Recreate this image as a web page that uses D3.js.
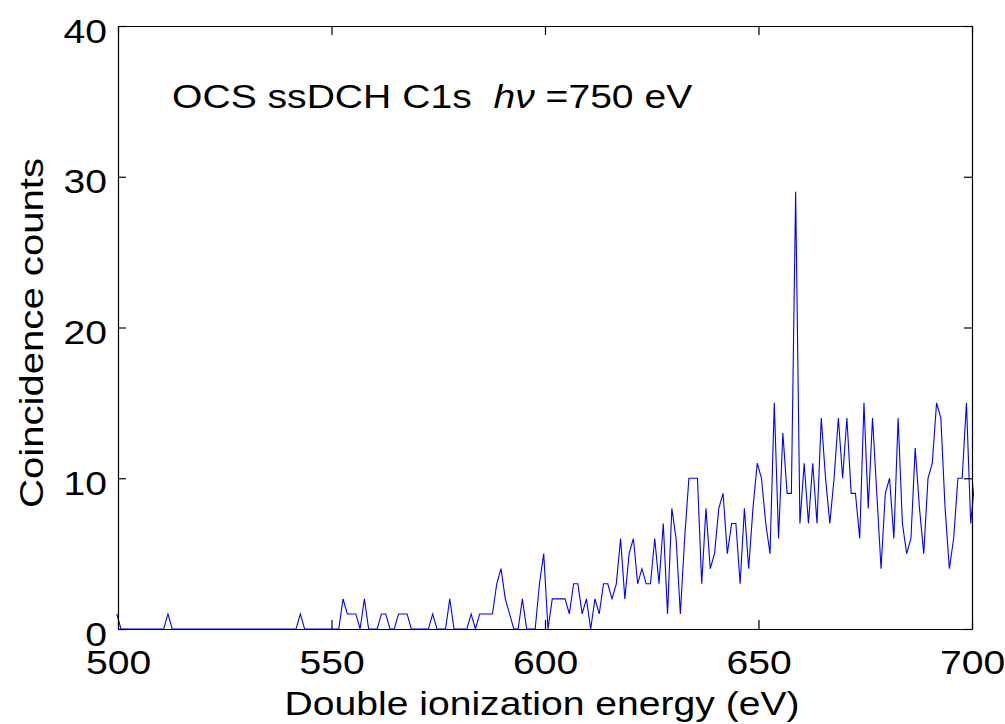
<!DOCTYPE html>
<html>
<head>
<meta charset="utf-8">
<script src="https://cdn.jsdelivr.net/npm/d3@7"></script>
<style>
  html, body { margin: 0; padding: 0; background: #fff; }
  svg { display: block; }
  text { font-family: "Liberation Sans", Arial, Helvetica, sans-serif; fill: #000; white-space: pre; }
</style>
</head>
<body>
<script>
// ---- data ----
const xTicks = [500, 550, 600, 650, 700];
const yTicks = [0, 10, 20, 30, 40];
const xDomain = [500, 700];
const yDomain = [0, 40];
const firstEnergy = 499.7;   // centre of the first bin (eV)
const binWidth = 1;          // bin width (eV)
const counts = [
  1, 0, 0, 0, 0, 0, 0, 0, 0, 0,      // 0-9
  0, 0, 1, 0, 0, 0, 0, 0, 0, 0,      // 10-19
  0, 0, 0, 0, 0, 0, 0, 0, 0, 0,      // 20-29
  0, 0, 0, 0, 0, 0, 0, 0, 0, 0,      // 30-39
  0, 0, 0, 1, 0, 0, 0, 0, 0, 0,      // 40-49
  0, 0, 0, 2, 1, 1, 1, 0, 2, 0,      // 50-59
  0, 0, 1, 1, 0, 0, 1, 1, 1, 0,      // 60-69
  0, 0, 0, 0, 1, 0, 0, 0, 2, 0,      // 70-79
  0, 0, 0, 1, 0, 1, 1, 1, 1, 3,      // 80-89
  4, 2, 1, 0, 0, 2, 0, 0, 0, 3,      // 90-99
  5, 0, 2, 2, 2, 2, 1, 3, 3, 1,      // 100-109
  2, 0, 2, 1, 3, 3, 2, 3, 6, 2,      // 110-119
  5, 6, 3, 4, 3, 3, 6, 3, 7, 1,      // 120-129
  8, 6, 1, 6, 10, 10, 10, 3, 8, 4,   // 130-139
  5, 8, 9, 5, 7, 7, 3, 8, 4, 8,      // 140-149
  11, 10, 7, 5, 15, 6, 13, 9, 9, 29, // 150-159
  7, 11, 7, 11, 7, 14, 10, 7, 10, 14,// 160-169
  10, 14, 9, 9, 6, 15, 8, 14, 9, 4,  // 170-179
  9, 10, 6, 14, 7, 5, 6, 12, 8, 5,   // 180-189
  10, 11, 15, 14, 8, 4, 6, 10, 10, 15,// 190-199
  7, 10                              // 200-201
];
const titleMain = "OCS ssDCH C1s  ";
const titleItalic = "hν";
const titleRest = " =750 eV";
const xLabel = "Double ionization energy (eV)";
const yLabel = "Coincidence counts";

// ---- layout ----
const W = 1005, H = 724;
const L = 118, R = 972, T = 26, B = 629;
const FS = 34, STRETCH = 1.15;

const energies = d3.range(counts.length).map(i => firstEnergy + i * binWidth);
const points = energies.map((e, i) => ({ e, c: counts[i] }));

const x = d3.scaleLinear().domain(xDomain).range([L, R]);
const y = d3.scaleLinear().domain(yDomain).range([B, T]);

const svg = d3.select("body").append("svg")
  .attr("width", W).attr("height", H)
  .attr("viewBox", `0 0 ${W} ${H}`);

svg.append("defs").append("clipPath").attr("id", "clip")
  .append("rect").attr("x", L - 2).attr("y", T - 2)
  .attr("width", R - L + 4).attr("height", B - T + 4);

// data line
const line = d3.line().x(d => x(d.e)).y(d => y(d.c));
svg.append("path")
  .datum(points)
  .attr("clip-path", "url(#clip)")
  .attr("fill", "none")
  .attr("stroke", "#0000ff")
  .attr("stroke-width", 1.1)
  .attr("stroke-linejoin", "miter")
  .attr("d", line);

// axes
function styleAxis(g) {
  g.selectAll("path.domain").attr("stroke", "#000").attr("stroke-width", 1.2);
  g.selectAll(".tick line").attr("stroke", "#000").attr("stroke-width", 1.2);
}
const gB = svg.append("g").attr("transform", `translate(0,${B})`)
  .call(d3.axisBottom(x).tickValues(xTicks).tickSizeInner(-9).tickSizeOuter(0).tickFormat(d3.format("d")));
const gT = svg.append("g").attr("transform", `translate(0,${T})`)
  .call(d3.axisTop(x).tickValues(xTicks).tickSizeInner(-9).tickSizeOuter(0).tickFormat(""));
const gL = svg.append("g").attr("transform", `translate(${L},0)`)
  .call(d3.axisLeft(y).tickValues(yTicks).tickSizeInner(-8).tickSizeOuter(0).tickFormat(d3.format("d")));
const gR = svg.append("g").attr("transform", `translate(${R},0)`)
  .call(d3.axisRight(y).tickValues(yTicks).tickSizeInner(-8).tickSizeOuter(0).tickFormat(""));
[gB, gT, gL, gR].forEach(g => { g.attr("font-family", null).attr("font-size", null); styleAxis(g); });

gB.selectAll(".tick text")
  .attr("x", 0).attr("y", 0).attr("dy", null)
  .attr("font-size", FS).attr("text-anchor", "middle")
  .attr("transform", `translate(0,45) scale(${STRETCH},1)`);
gL.selectAll(".tick text")
  .attr("x", 0).attr("y", 0).attr("dy", null)
  .attr("font-size", FS).attr("text-anchor", "end")
  .attr("transform", `translate(-11,16) scale(${STRETCH},1)`);

// axis labels
svg.append("text")
  .attr("font-size", FS).attr("text-anchor", "middle")
  .attr("transform", `translate(${(L + R) / 2 - 3},715) scale(${STRETCH},1)`)
  .text(xLabel);
svg.append("text")
  .attr("font-size", FS).attr("text-anchor", "middle")
  .attr("transform", `translate(43,333) rotate(-90) scale(1.18,1)`)
  .text(yLabel);

// annotation
const t = svg.append("text")
  .attr("font-size", FS)
  .attr("transform", `translate(172,108) scale(${STRETCH},1)`);
t.append("tspan").text(titleMain);
t.append("tspan").attr("font-style", "italic").text(titleItalic);
t.append("tspan").text(titleRest);
</script>
</body>
</html>
